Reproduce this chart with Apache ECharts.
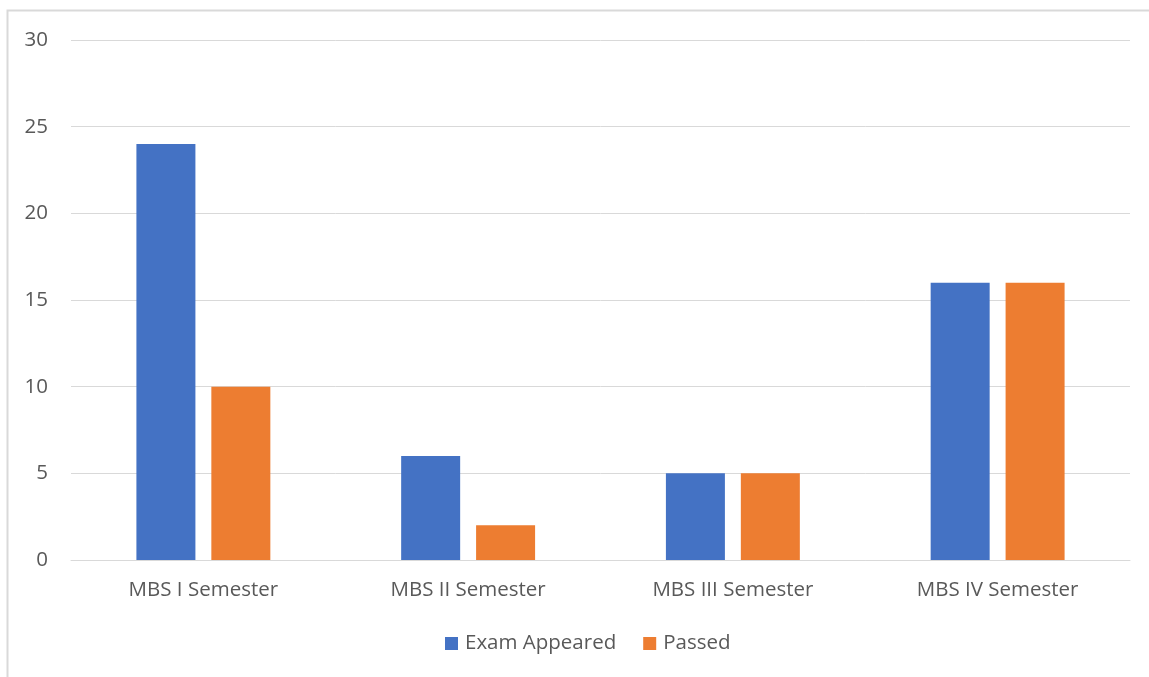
<!DOCTYPE html>
<html>
<head>
<meta charset="utf-8">
<script src="https://cdn.jsdelivr.net/npm/echarts@6/dist/echarts.min.js"></script>
<style>
    html,body{margin:0;padding:0;background:#fff;}
    #main{width:1149px;height:677px;}
</style>
</head>
<body>
<div id="main"></div>
<script>
    // 数据
    var categories = ['MBS I Semester', 'MBS II Semester', 'MBS III Semester', 'MBS IV Semester'];
    var seriesNames = ['Exam Appeared', 'Passed'];
    var examAppeared = [24, 6, 5, 16];
    var passed = [10, 2, 5, 16];
    var colorList = ['#4472c4', '#ed7d31'];

    var myChart = echarts.init(document.getElementById('main'));
    var option = {
        animation: false,
        backgroundColor: '#fff',
        textStyle: {fontFamily: 'Open Sans'},
        graphic: [{
            type: 'rect',
            shape: {x: 7.5, y: 10.5, width: 1160, height: 700},
            style: {fill: 'none', stroke: '#d9d9d9', lineWidth: 2},
            silent: true
        }],
        legend: {
            data: seriesNames,
            bottom: 18,
            left: 440,
            itemWidth: 13,
            itemHeight: 13,
            itemGap: 27,
            icon: 'rect',
            textStyle: {color: '#595959', fontSize: 20.5, fontFamily: 'Open Sans', padding: [0, 0, 0, 2]}
        },
        grid: {
            left: 71,
            right: 19,
            top: 40,
            bottom: 117
        },
        xAxis: {
            type: 'category',
            data: categories,
            axisLine: {lineStyle: {color: '#d9d9d9', width: 1}},
            axisTick: {show: false},
            axisLabel: {color: '#595959', fontSize: 20.5, margin: 20, fontFamily: 'Open Sans'}
        },
        yAxis: {
            type: 'value',
            min: 0,
            max: 30,
            interval: 5,
            axisLine: {show: false},
            axisTick: {show: false},
            splitLine: {lineStyle: {color: '#d9d9d9', width: 1}},
            axisLabel: {color: '#595959', fontSize: 20.5, margin: 23, fontFamily: 'Open Sans'}
        },
        series: [
            {
                name: seriesNames[0],
                type: 'bar',
                color: colorList[0],
                data: examAppeared,
                barWidth: 59,
                barGap: '27%'
            },
            {
                name: seriesNames[1],
                type: 'bar',
                color: colorList[1],
                data: passed,
                barWidth: 59,
                barGap: '27%'
            }
        ]
    };
    myChart.setOption(option);
</script>
</body>
</html>
